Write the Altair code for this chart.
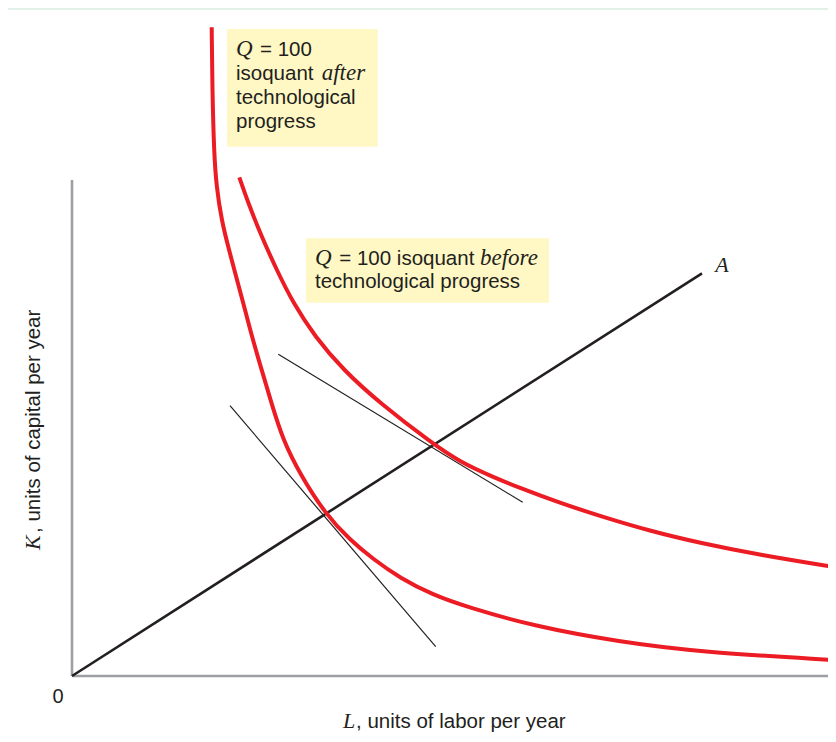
import altair as alt
import pandas as pd

# ---- data (chart units; origin at the axes corner) ----
after_L = [139.7, 140.3, 142, 144.5, 149.5, 157, 164, 171.3, 180, 189.7, 199.7, 211, 228, 253,
           278, 301, 328, 361, 395, 461, 548, 628, 762]
after_K = [648.7, 589.3, 523, 489, 456, 426, 400, 373, 339, 306, 272, 236, 202, 162.5,
           136, 117, 98, 81, 69, 50, 34, 24, 16]

before_L = [167.3, 176.3, 189.7, 204.7, 221.3, 243, 271.3, 308, 361, 388, 421, 448,
            488, 528, 578, 628, 688, 762]
before_K = [498.7, 472.7, 439.3, 406, 372.7, 339.3, 306, 272.7, 232, 214, 199, 188,
            173, 160, 145, 133, 121, 109]

ray_L = [0, 630]
ray_K = [0, 402.7]

tan_after_L = [158, 363.7]
tan_after_K = [270.3, 29.3]
tan_before_L = [206.3, 450.7]
tan_before_K = [321.7, 173.7]

axis_L1 = [0, 0]
axis_K1 = [0, 0]
axis_L2 = [0, 760]
axis_K2 = [496, 0]

box_L1 = [155, 234]
box_L2 = [305.7, 477]
box_K1 = [647, 437.7]
box_K2 = [529.3, 373.3]

text_items = [
    # text, L, K, kind
    ("Q", 164, 620, "serif"),
    ("= 100", 188, 620, "sans"),
    ("isoquant", 164, 596, "sans"),
    ("after", 249.7, 596, "serif"),
    ("technological", 164, 572, "sans"),
    ("progress", 164, 548, "sans"),
    ("Q", 243, 411, "serif"),
    ("= 100 isoquant", 267.3, 411, "sans"),
    ("before", 408, 411, "serif"),
    ("technological progress", 243, 387.7, "sans"),
    ("L", 271, -52, "serif_small"),
    (", units of labor per year", 284, -52, "sans"),
    ("K", -32, 126, "serif_rot"),
    (", units of capital per year", -32, 143, "sans_rot"),
]
A_label = [("A", 650, 411)]
zero_label = [("0", -14, -21)]

SANS = "Liberation Sans"
SERIF = "Liberation Serif"
INK = "#231f20"
RED = "#ec1c24"
FS = 20.5

xs = alt.Scale(domain=[0, 756])
ys = alt.Scale(domain=[0, 656])


def X(f="L"):
    return alt.X(f"{f}:Q", scale=xs, axis=None)


def Y(f="K"):
    return alt.Y(f"{f}:Q", scale=ys, axis=None)


def line(Ls, Ks, color, width, interp="linear"):
    df = pd.DataFrame({"L": Ls, "K": Ks, "i": list(range(len(Ls)))})
    return alt.Chart(df).mark_line(
        color=color, strokeWidth=width, interpolate=interp, strokeCap="butt"
    ).encode(x=X(), y=Y(), order="i:O")


# top frame strip
frame = alt.Chart(pd.DataFrame({"a": [0]})).mark_rect(color="#e2f1e8").encode(
    x=alt.value(-64), x2=alt.value(760), y=alt.value(-12), y2=alt.value(-10)
)

boxes = alt.Chart(pd.DataFrame({"L": box_L1, "L2": box_L2, "K": box_K1, "K2": box_K2})).mark_rect(
    color="#fff8c4"
).encode(x=X(), x2="L2:Q", y=Y(), y2="K2:Q")

axes = alt.Chart(pd.DataFrame({"L": axis_L1, "K": axis_K1, "L2": axis_L2, "K2": axis_K2})).mark_rule(
    color="#9d9fa2", strokeWidth=2.6
).encode(x=X(), y=Y(), x2="L2:Q", y2="K2:Q")

ray = line(ray_L, ray_K, INK, 2.6)
tan1 = line(tan_after_L, tan_after_K, INK, 1.2)
tan2 = line(tan_before_L, tan_before_K, INK, 1.2)
after_curve = line(after_L, after_K, RED, 4, "basis")
before_curve = line(before_L, before_K, RED, 4, "basis")

tdf = pd.DataFrame(text_items, columns=["text", "L", "K", "kind"])


def texts(kind, **kw):
    return alt.Chart(tdf[tdf["kind"] == kind]).mark_text(color=INK, **kw).encode(
        x=X(), y=Y(), text="text:N"
    )


t_sans = texts("sans", font=SANS, fontSize=FS, align="left", baseline="alphabetic")
t_serif = texts("serif", font=SERIF, fontSize=23, fontStyle="italic", align="left", baseline="alphabetic")
t_serif_small = texts("serif_small", font=SERIF, fontSize=22, fontStyle="italic", align="left", baseline="alphabetic")
t_serif_rot = texts("serif_rot", font=SERIF, fontSize=22, fontStyle="italic", align="left",
                    baseline="alphabetic", angle=270)
t_sans_rot = texts("sans_rot", font=SANS, fontSize=FS, align="left", baseline="alphabetic", angle=270)

t_A = alt.Chart(pd.DataFrame(A_label, columns=["text", "L", "K"])).mark_text(
    color=INK, font=SERIF, fontSize=22, fontStyle="italic", align="center", baseline="middle"
).encode(x=X(), y=Y(), text="text:N")

t_zero = alt.Chart(pd.DataFrame(zero_label, columns=["text", "L", "K"])).mark_text(
    color=INK, font=SANS, fontSize=20, align="center", baseline="middle"
).encode(x=X(), y=Y(), text="text:N")

chart = alt.layer(
    frame, boxes, axes, tan1, tan2, ray, after_curve, before_curve,
    t_sans, t_serif, t_serif_small, t_serif_rot, t_sans_rot, t_A, t_zero
).properties(
    width=756,
    height=656,
    autosize=alt.AutoSizeParams(type="none"),
    padding={"left": 64, "top": 12, "right": 0, "bottom": 58},
    background="white",
).configure_view(strokeWidth=0)

chart.save("out.html", embed_options={"renderer": "svg", "actions": False})
